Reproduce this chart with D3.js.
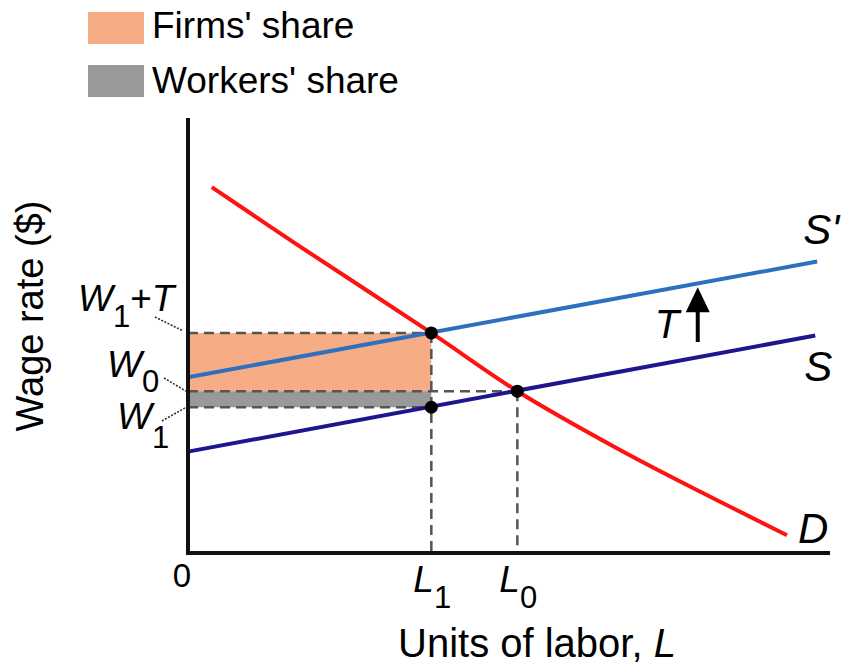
<!DOCTYPE html>
<html>
<head>
<meta charset="utf-8">
<script src="https://cdn.jsdelivr.net/npm/d3@7"></script>
<style>
  html, body { margin: 0; padding: 0; background: #fff; }
  svg { display: block; font-family: "Liberation Sans", Arial, sans-serif; }
</style>
</head>
<body>
<svg id="chart" width="844" height="666"></svg>
<script>
// ---- data ----
const legendLabels = ["Firms' share", "Workers' share"];
const legendColors = ["#f6ad85", "#999999"];
const laborNames = ["L1", "L0"];
const laborValues = [3.79, 5.13];
const wageNames = ["W1+T", "W0", "W1"];
const wageValues = [5.06, 3.72, 3.35];
const supplyS = [[0, 2.33], [9.77, 5.0]];
const supplySPrime = [[0, 4.04], [9.8, 6.7]];
const demandD = [[0.37, 8.41], [1.74, 7.05], [3.79, 5.06], [5.13, 3.72], [6.73, 2.37], [7.98, 1.41], [9.33, 0.41]];
const taxArrow = [[7.94, 4.85], [7.94, 6.11]];
const equilibriumPoints = [[3.79, 5.06], [5.13, 3.72], [3.79, 3.35]];

// ---- scales ----
const svg = d3.select("#chart");
const x = d3.scaleLinear().domain([0, 10]).range([188, 830]);
const y = d3.scaleLinear().domain([0, 10]).range([553, 118]);
const line = d3.line().x(d => x(d[0])).y(d => y(d[1]));

// ---- shaded shares ----
const L1 = laborValues[0], L0 = laborValues[1];
const W1T = wageValues[0], W0 = wageValues[1], W1 = wageValues[2];
svg.append("rect").attr("x", x(0)).attr("y", y(W1T))
  .attr("width", x(L1) - x(0)).attr("height", y(W0) - y(W1T)).attr("fill", legendColors[0]);
svg.append("rect").attr("x", x(0)).attr("y", y(W0))
  .attr("width", x(L1) - x(0)).attr("height", y(W1) - y(W0)).attr("fill", legendColors[1]);

// ---- dashed guides ----
const dashes = [
  [[0, W1T], [L1, W1T]],
  [[0, W0], [L0, W0]],
  [[0, W1], [L1, W1]],
  [[L1, W1T], [L1, 0]],
  [[L0, W0], [L0, 0]]
];
svg.selectAll(".guide").data(dashes).enter().append("path")
  .attr("class", "guide").attr("d", line)
  .attr("fill", "none").attr("stroke", "#555").attr("stroke-width", 2.5)
  .attr("stroke-dasharray", "10,6");

// ---- curves ----
svg.append("path").attr("d", line(supplyS)).attr("fill", "none")
  .attr("stroke", "#1f168f").attr("stroke-width", 4);
svg.append("path").attr("d", line(supplySPrime)).attr("fill", "none")
  .attr("stroke", "#2f6fc0").attr("stroke-width", 4);
svg.append("path").attr("d", d3.line().x(d => x(d[0])).y(d => y(d[1])).curve(d3.curveCatmullRom.alpha(0.5))(demandD))
  .attr("fill", "none").attr("stroke", "#ff1212").attr("stroke-width", 4);

// ---- axes ----
svg.append("path")
  .attr("d", line([[0, 10], [0, 0], [10, 0]]))
  .attr("fill", "none").attr("stroke", "#111").attr("stroke-width", 4);

// ---- points ----
svg.selectAll(".pt").data(equilibriumPoints).enter().append("circle")
  .attr("cx", d => x(d[0])).attr("cy", d => y(d[1])).attr("r", 6.5).attr("fill", "#000");

// ---- tax arrow ----
const ax = x(taxArrow[0][0]);
const tipY = y(taxArrow[1][1]);
svg.append("line").attr("x1", ax).attr("x2", ax)
  .attr("y1", y(taxArrow[0][1])).attr("y2", tipY + 20)
  .attr("stroke", "#000").attr("stroke-width", 4);
svg.append("path")
  .attr("d", `M${ax},${tipY} L${ax - 12},${tipY + 25} L${ax + 12},${tipY + 25} Z`)
  .attr("fill", "#000");
svg.append("text").attr("x", ax - 43).attr("y", y(taxArrow[0][1]) - 4)
  .attr("font-size", 40).attr("font-style", "italic").text("T");

// ---- curve labels ----
const endS = supplyS[1], endSP = supplySPrime[1], endD = demandD[demandD.length - 1];
svg.append("text").attr("x", x(endSP[0]) - 14).attr("y", y(endSP[1]) - 18)
  .attr("font-size", 42).attr("font-style", "italic").text("S'");
svg.append("text").attr("x", x(endS[0]) - 11).attr("y", y(endS[1]) + 45)
  .attr("font-size", 42).attr("font-style", "italic").text("S");
svg.append("text").attr("x", x(endD[0]) + 11).attr("y", y(endD[1]) + 8)
  .attr("font-size", 42).attr("font-style", "italic").text("D");

// ---- wage labels ----
function subLabel(xp, yp, main, sub, rest, size, subSize, subDy) {
  const t = svg.append("text").attr("x", xp).attr("y", yp).attr("font-size", size);
  t.append("tspan").attr("font-style", "italic").text(main);
  t.append("tspan").attr("font-size", subSize).attr("dy", subDy).text(sub);
  if (rest) {
    t.append("tspan").attr("dy", -subDy).text("+");
    t.append("tspan").attr("font-style", "italic").text(rest);
  }
  return t;
}
subLabel(78, y(W1T) - 22, "W", "1", "T", 37, 31, 16);
subLabel(107, y(W0) - 14, "W", "0", null, 37, 31, 15);
subLabel(117, y(W1) + 22, "W", "1", null, 37, 31, 19);

// leaders
const leaders = [
  [[155, 317], [183, y(W1T) - 2]],
  [[164, 378], [186, y(W0)]],
  [[162, 421], [186, y(W1)]]
];
svg.selectAll(".leader").data(leaders).enter().append("line")
  .attr("x1", d => d[0][0]).attr("y1", d => d[0][1])
  .attr("x2", d => d[1][0]).attr("y2", d => d[1][1])
  .attr("stroke", "#333").attr("stroke-width", 1.6).attr("stroke-dasharray", "2,1.5");

// ---- labor labels ----
laborNames.forEach((n, i) => {
  const t = svg.append("text").attr("x", x(laborValues[i]) - 18).attr("y", 592).attr("font-size", 37);
  t.append("tspan").attr("font-style", "italic").text(n[0]);
  t.append("tspan").attr("font-size", 31).attr("dy", 16).text(n.slice(1));
});
svg.append("text").attr("x", x(0) - 6).attr("y", 587).attr("text-anchor", "middle")
  .attr("font-size", 33).text("0");

// ---- axis titles ----
const xt = svg.append("text").attr("x", 398).attr("y", 657).attr("font-size", 40);
xt.append("tspan").text("Units of labor, ");
xt.append("tspan").attr("font-style", "italic").text("L");
svg.append("text").attr("transform", "translate(43,316) rotate(-90)")
  .attr("text-anchor", "middle").attr("font-size", 38).text("Wage rate ($)");

// ---- legend ----
legendLabels.forEach((lab, i) => {
  svg.append("rect").attr("x", 88).attr("y", 12 + i * 53).attr("width", 56).attr("height", 32)
    .attr("fill", legendColors[i]);
  svg.append("text").attr("x", 152).attr("y", 38 + i * 55).attr("font-size", 37).text(lab);
});
</script>
</body>
</html>
